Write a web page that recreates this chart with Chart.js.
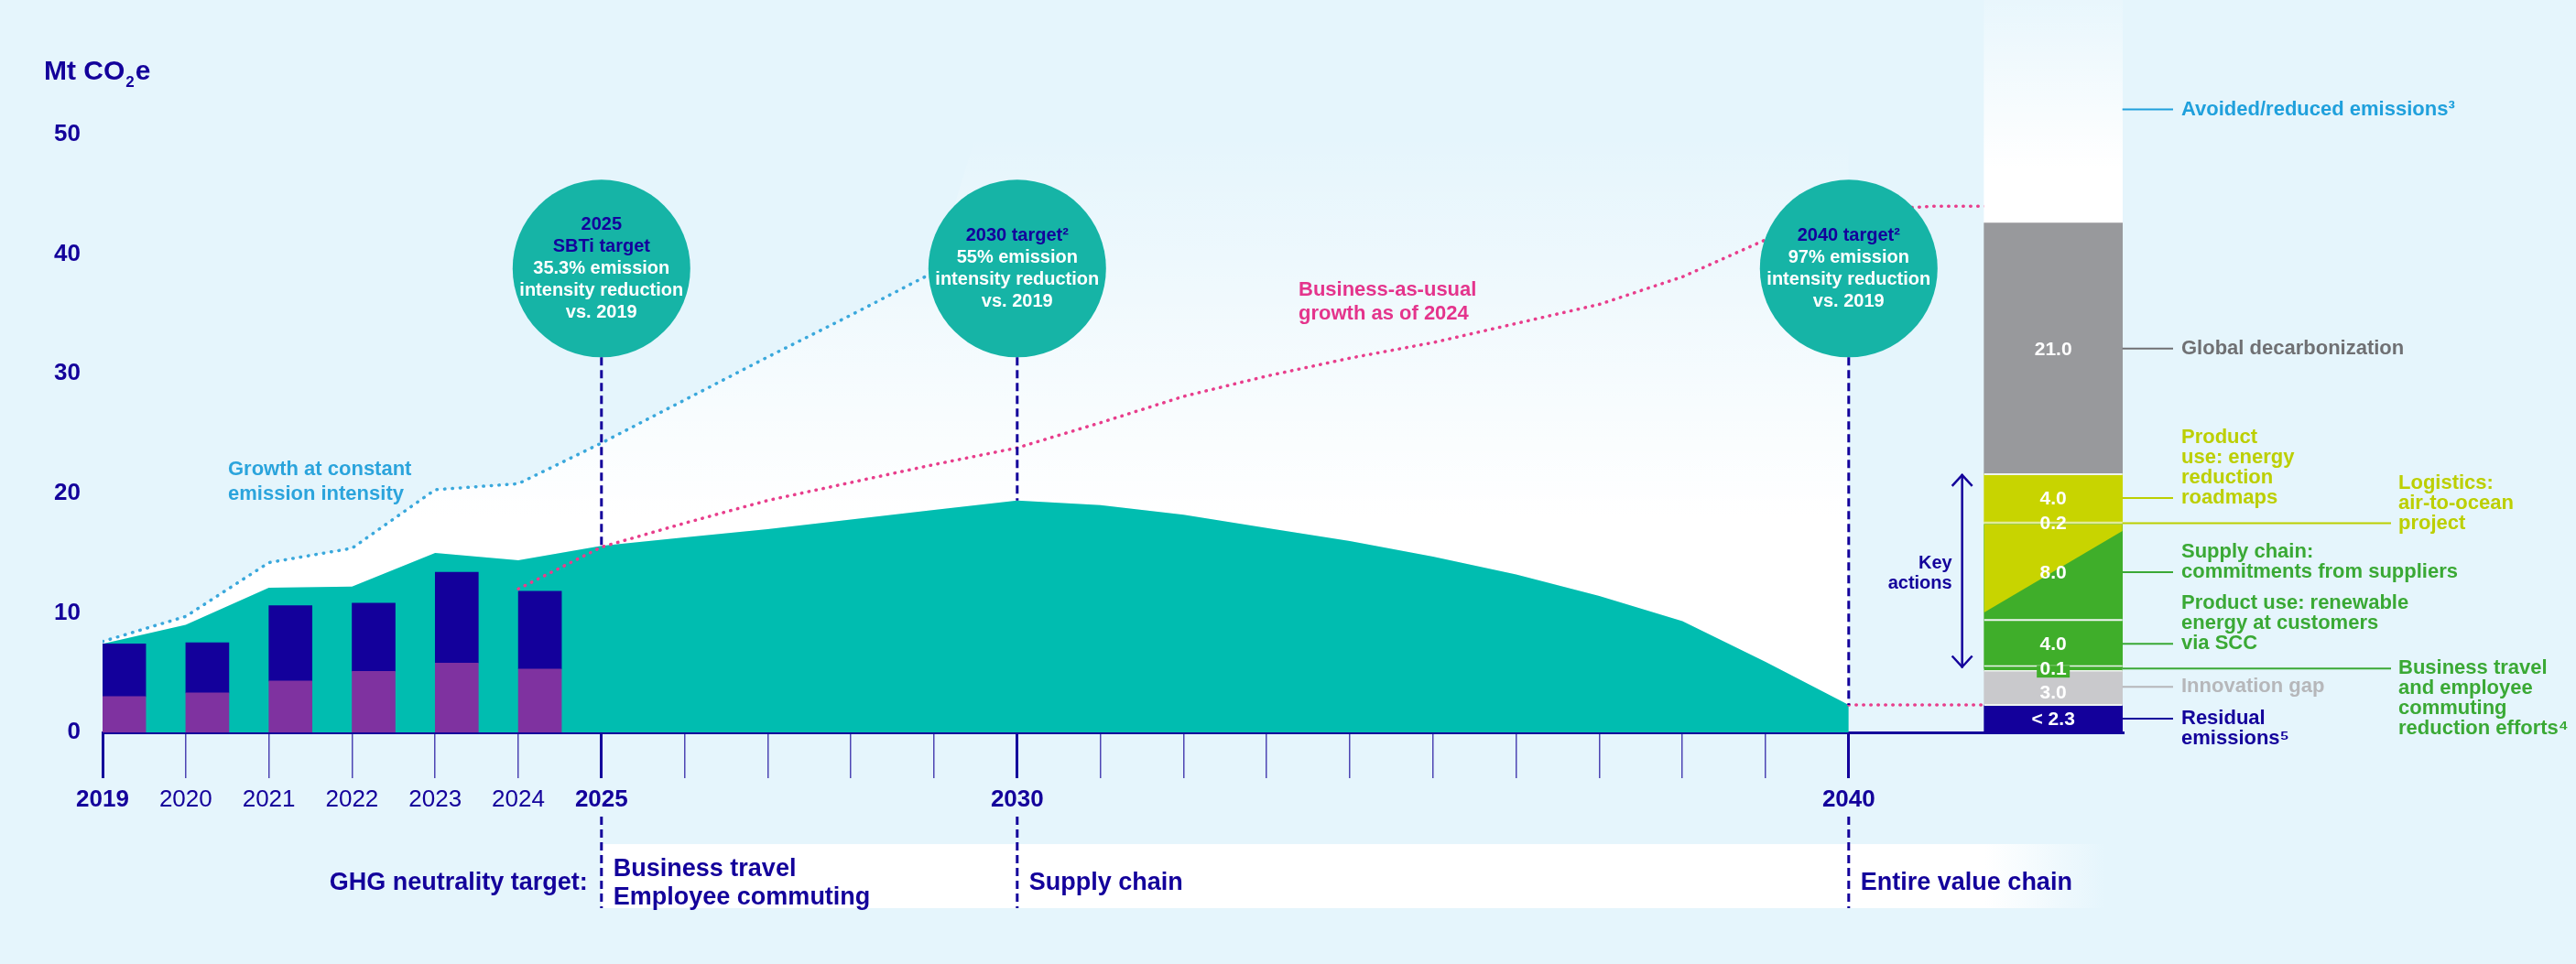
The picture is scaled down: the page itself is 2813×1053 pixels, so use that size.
<!DOCTYPE html>
<html lang="en">
<head>
<meta charset="UTF-8">
<title>Emission pathway</title>
<script src="https://cdn.jsdelivr.net/npm/chart.js"></script>
<style>
  html, body { margin: 0; padding: 0; background: #e5f5fc; }
  .wrap { width: 2813px; height: 1053px; position: relative; }
</style>
</head>
<body>
<div class="wrap"><canvas id="chart"></canvas></div>
<script>
// ---- values (Mt CO2e) ----
const histYears = [2019, 2020, 2021, 2022, 2023, 2024];
const histLower = [3.0, 3.3, 4.3, 5.1, 5.8, 5.3];
const histUpper = [4.4, 4.2, 6.3, 5.7, 7.6, 6.5];

const pathYears = [2019, 2020, 2021, 2022, 2023, 2024, 2025, 2026, 2027, 2028, 2029, 2030,
                   2031, 2032, 2033, 2034, 2035, 2036, 2037, 2038, 2039, 2040];
const pathValues = [7.4, 9.0, 12.1, 12.2, 15.0, 14.4, 15.6, 16.3, 17.0, 17.8, 18.6, 19.4,
                    19.0, 18.2, 17.1, 16.0, 14.7, 13.2, 11.4, 9.3, 5.9, 2.3];

const constYears = [2019, 2020, 2021, 2022, 2023, 2024, 2025, 2026, 2027, 2028, 2029];
const constValues = [7.6, 9.7, 14.2, 15.4, 20.3, 20.8, 24.2, 27.8, 31.4, 34.9, 38.5];

const pathBarX = 2042.46;   // position of the pathway bar after 2040
const bauYears = [2024, 2025, 2026, 2027, 2028, 2029, 2030, 2031, 2032, 2033, 2034, 2035,
                  2036, 2037, 2038, 2039, 2040, 2041, pathBarX];
const bauValues = [12.0, 15.5, 17.5, 19.4, 20.9, 22.4, 23.8, 25.9, 28.1, 29.8, 31.3, 32.6,
                   34.2, 35.8, 38.1, 41.2, 43.6, 44.0, 44.0];

const residualYears = [2040, pathBarX];
const residualValues = [2.3, 2.3];

const segValues = [2.3, 3.0, 0.1, 4.0, 8.0, 0.2, 4.0, 21.0, 19.0];
const segLabels = ['< 2.3', '3.0', '0.1', '4.0', '8.0', '0.2', '4.0', '21.0', ''];
const segNames = [
  'Residual\nemissions⁵',
  'Innovation gap',
  'Business travel\nand employee\ncommuting\nreduction efforts⁴',
  'Product use: renewable\nenergy at customers\nvia SCC',
  'Supply chain:\ncommitments from suppliers',
  'Logistics:\nair-to-ocean\nproject',
  'Product\nuse: energy\nreduction\nroadmaps',
  'Global decarbonization',
  'Avoided/reduced emissions³'
];

const milestoneYears = [2025, 2030, 2040];
const milestoneTitles = [['2025', 'SBTi target'], ['2030 target²'], ['2040 target²']];
const milestoneTexts = [
  ['35.3% emission', 'intensity reduction', 'vs. 2019'],
  ['55% emission', 'intensity reduction', 'vs. 2019'],
  ['97% emission', 'intensity reduction', 'vs. 2019']
];

const neutralityYears = [2025, 2030, 2040];
const neutralityScopes = [['Business travel', 'Employee commuting'], ['Supply chain'], ['Entire value chain']];

const tickYears = pathYears;
const labelYears = [2019, 2020, 2021, 2022, 2023, 2024, 2025, 2030, 2040];
const majorYears = [2019, 2025, 2030, 2040];

// ---- styles ----
const FONT = '"Liberation Sans", Arial, sans-serif';
const BG = '#e5f5fc';
const NAVY = '#13009b';
const PURPLE = '#7f32a0';
const TEAL = '#00bdb0';
const CIRCLE = '#16b4a6';
const GREEN = '#3fae2a';
const YELLOW = '#c8d400';
const CIRCLE_LEVEL = 38.8;
const BAR_SHIFT = 0.26;
// target geometry of the plot: 2019 at x=112, 90.8 px per year; 0 at y=800, 13.06 px per Mt
const X0 = 112, PX_YEAR = 90.8, Y0 = 800, PX_UNIT = 13.06;

const segColors = [NAVY, '#c9c9cc', GREEN, GREEN, GREEN, '#e2ea98', YELLOW, '#98999c', 'avoided'];
const segText = [NAVY, '#b6b7ba', '#3aa935', '#3aa935', '#3aa935', '#bccf00', '#bccf00', '#6f7073', '#1fa0dc'];
const segFar = [false, false, true, false, false, true, false, false, false];
const segAnchorFirst = [true, false, true, false, false, false, false, false, false];

Chart.defaults.font.family = FONT;

function avoidedFill(c) {
  const chart = c.chart;
  if (!chart.chartArea) return '#ffffff';
  const ys = chart.scales.y;
  const g = chart.ctx.createLinearGradient(0, ys.getPixelForValue(42.6), 0, ys.getPixelForValue(61));
  g.addColorStop(0, 'rgba(255,255,255,1)');
  g.addColorStop(0.25, 'rgba(255,255,255,1)');
  g.addColorStop(1, 'rgba(255,255,255,0.15)');
  return g;
}

function envelopeFill(c) {
  const chart = c.chart;
  if (!chart.chartArea) return 'rgba(255,255,255,0.8)';
  const ys = chart.scales.y;
  const g = chart.ctx.createLinearGradient(0, ys.getPixelForValue(18), 0, ys.getPixelForValue(50));
  g.addColorStop(0, 'rgba(255,255,255,1)');
  g.addColorStop(1, 'rgba(255,255,255,0)');
  return g;
}

const datasets = [];
datasets.push({
  type: 'bubble', order: 0,
  data: milestoneYears.map(v => ({ x: v, y: CIRCLE_LEVEL })),
  radius: 97, backgroundColor: CIRCLE, borderWidth: 0
});
datasets.push({
  type: 'bar', order: 1, stack: 'hist', grouped: false, barThickness: 47,
  data: histYears.map((v, i) => ({ x: v + BAR_SHIFT, y: histLower[i] })),
  backgroundColor: PURPLE, borderWidth: 0
});
datasets.push({
  type: 'bar', order: 1, stack: 'hist', grouped: false, barThickness: 47,
  data: histYears.map((v, i) => ({ x: v + BAR_SHIFT, y: histUpper[i] })),
  backgroundColor: NAVY, borderWidth: 0
});
const SEG_START = datasets.length;
segValues.forEach((v, i) => {
  const avoided = segColors[i] === 'avoided';
  datasets.push({
    type: 'bar', order: 1, stack: 'path', grouped: false, barThickness: 151,
    data: [{ x: pathBarX, y: v }],
    backgroundColor: avoided ? avoidedFill : segColors[i],
    borderWidth: 0,
    clip: avoided ? false : undefined
  });
});
datasets.push({
  type: 'line', order: 2, data: constYears.map((v, i) => ({ x: v, y: constValues[i] })),
  borderColor: '#3aa8dc', borderWidth: 3.5, borderDash: [0.5, 8], borderCapStyle: 'round',
  pointRadius: 0, fill: false, tension: 0
});
datasets.push({
  type: 'line', order: 2, data: bauYears.map((v, i) => ({ x: v, y: bauValues[i] })),
  borderColor: '#e83e8c', borderWidth: 3.5, borderDash: [0.5, 7.5], borderCapStyle: 'round',
  pointRadius: 0, fill: false, tension: 0
});
datasets.push({
  type: 'line', order: 2, data: residualYears.map((v, i) => ({ x: v, y: residualValues[i] })),
  borderColor: '#e83e8c', borderWidth: 3.5, borderDash: [0.5, 7.5], borderCapStyle: 'round',
  pointRadius: 0, fill: false
});
const TEAL_INDEX = datasets.length;
datasets.push({
  type: 'line', order: 3, data: pathYears.map((v, i) => ({ x: v, y: pathValues[i] })),
  borderColor: 'rgba(0,0,0,0)', borderWidth: 0, backgroundColor: TEAL,
  pointRadius: 0, fill: 'origin', tension: 0
});
// upper envelope: constant-intensity growth, then open above
const envelope = pathYears.map(v => {
  const k = constYears.indexOf(v);
  return { x: v, y: k >= 0 ? constValues[k] : 61.3 };
});
datasets.push({
  type: 'line', order: 4, data: envelope,
  borderColor: 'rgba(0,0,0,0)', borderWidth: 0, backgroundColor: envelopeFill,
  pointRadius: 0, fill: { target: TEAL_INDEX }, tension: 0
});

function text(ctx, s, x, y, font, color, align) {
  ctx.font = font;
  ctx.fillStyle = color;
  ctx.textAlign = align || 'left';
  ctx.textBaseline = 'middle';
  ctx.fillText(s, x, y);
}
function seg(ctx, x1, y1, x2, y2) {
  ctx.beginPath(); ctx.moveTo(x1, y1); ctx.lineTo(x2, y2); ctx.stroke();
}

const decor = {
  id: 'decor',
  beforeDraw(chart) {
    const { ctx, width, height, scales: { x } } = chart;
    ctx.save();
    ctx.fillStyle = BG;
    ctx.fillRect(0, 0, width, height);
    // neutrality band
    const bx0 = x.getPixelForValue(neutralityYears[0]);
    const bx1 = x.getPixelForValue(neutralityYears[2]) + 280;
    const g = ctx.createLinearGradient(bx0, 0, bx1, 0);
    g.addColorStop(0, '#ffffff');
    g.addColorStop(0.92, '#ffffff');
    g.addColorStop(1, BG);
    ctx.fillStyle = g;
    ctx.fillRect(bx0, 922, bx1 - bx0, 70);
    ctx.restore();
  },
  afterDatasetsDraw(chart) {
    const { ctx, scales: { x, y } } = chart;
    const bold = s => 'bold ' + s + 'px ' + FONT;
    ctx.save();

    // milestone dashed lines
    const circles = chart.getDatasetMeta(0).data;
    ctx.strokeStyle = NAVY;
    ctx.lineWidth = 3;
    ctx.setLineDash([9, 5]);
    milestoneYears.forEach((yr, i) => {
      const el = circles[i];
      const px = x.getPixelForValue(yr);
      const v = pathValues[pathYears.indexOf(yr)];
      seg(ctx, px, el.y + el.options.radius, px, y.getPixelForValue(v));
    });
    neutralityYears.forEach(yr => {
      const px = x.getPixelForValue(yr);
      seg(ctx, px, 892, px, 992);
    });
    ctx.setLineDash([]);

    // circle texts
    milestoneYears.forEach((yr, i) => {
      const el = circles[i];
      const lines = milestoneTitles[i].map(t => [t, NAVY]).concat(milestoneTexts[i].map(t => [t, '#ffffff']));
      const lh = 24;
      const y0 = el.y - (lines.length - 1) * lh / 2;
      lines.forEach((l, k) => text(ctx, l[0], el.x, y0 + k * lh, bold(20), l[1], 'center'));
    });

    // pathway bar details
    const els = segValues.map((_, i) => chart.getDatasetMeta(SEG_START + i).data[0]);
    const s4 = els[4];
    const L = s4.x - s4.width / 2, R = s4.x + s4.width / 2, T = s4.y, B = s4.base, H = B - T;
    ctx.fillStyle = YELLOW;
    ctx.beginPath();
    ctx.moveTo(L, T); ctx.lineTo(R, T); ctx.lineTo(R, T + 0.07 * H); ctx.lineTo(L, T + 0.92 * H);
    ctx.closePath(); ctx.fill();

    // separators
    ctx.strokeStyle = '#eef4ef';
    ctx.lineWidth = 2;
    [0, 1, 6].forEach(i => seg(ctx, L, els[i].y, R, els[i].y));
    seg(ctx, L, els[4].base, R, els[4].base);
    const g0 = els[2].base + 2, g1 = els[2].y - 2;
    ctx.fillStyle = GREEN;
    ctx.fillRect(L, g1, R - L, g0 - g1);
    ctx.lineWidth = 1.5;
    seg(ctx, L, g0, R, g0);
    seg(ctx, L, g1, R, g1);

    // value labels
    const barC = s4.x;
    els.forEach((el, i) => {
      if (!segLabels[i]) return;
      let cy = (el.y + el.base) / 2;
      if (segLabels[i] === '0.1') {
        ctx.fillStyle = GREEN;
        ctx.fillRect(barC - 18, cy - 3, 36, 13);
      }
      if (segLabels[i] === '3.0') cy += 6;
      text(ctx, segLabels[i], barC, cy + 1, bold(21), '#ffffff', 'center');
    });

    // leaders and names
    els.forEach((el, i) => {
      const top = Math.max(el.y, -5);
      const cy = (top + el.base) / 2;
      const xEnd = segFar[i] ? 2611 : 2373;
      const xTxt = segFar[i] ? 2619 : 2382;
      ctx.strokeStyle = segText[i];
      ctx.lineWidth = 2;
      seg(ctx, R, cy, xEnd, cy);
      const lines = segNames[i].split('\n');
      const lh = 22;
      const y0 = segAnchorFirst[i] ? cy : cy - (lines.length - 1) * lh;
      lines.forEach((t, k) => text(ctx, t, xTxt, y0 + k * lh, bold(22), segText[i]));
    });

    // key actions arrow
    const ax = L - 24;
    const aTop = els[6].y, aBot = els[3].base;
    ctx.strokeStyle = NAVY;
    ctx.lineWidth = 2.5;
    seg(ctx, ax, aTop, ax, aBot);
    ctx.beginPath();
    ctx.moveTo(ax - 11, aTop + 13); ctx.lineTo(ax, aTop + 1); ctx.lineTo(ax + 11, aTop + 13);
    ctx.moveTo(ax - 11, aBot - 13); ctx.lineTo(ax, aBot - 1); ctx.lineTo(ax + 11, aBot - 13);
    ctx.stroke();
    const am = (aTop + aBot) / 2;
    text(ctx, 'Key', ax - 11, am - 8, bold(20), NAVY, 'right');
    text(ctx, 'actions', ax - 11, am + 14, bold(20), NAVY, 'right');

    // line annotations
    text(ctx, 'Growth at constant', 249, 513, bold(22), '#2ba4dc');
    text(ctx, 'emission intensity', 249, 540, bold(22), '#2ba4dc');
    text(ctx, 'Business-as-usual', 1418, 317, bold(22), '#e4348c');
    text(ctx, 'growth as of 2024', 1418, 343, bold(22), '#e4348c');

    // unit title
    ctx.textBaseline = 'alphabetic';
    ctx.textAlign = 'left';
    ctx.fillStyle = NAVY;
    ctx.font = bold(30);
    const w1 = ctx.measureText('Mt CO').width;
    ctx.fillText('Mt CO', 48, 87);
    ctx.font = bold(17);
    ctx.fillText('2', 48 + w1 + 1, 95);
    const w2 = ctx.measureText('2').width;
    ctx.font = bold(30);
    ctx.fillText('e', 48 + w1 + w2 + 2, 87);

    // neutrality row
    text(ctx, 'GHG neutrality target:', x.getPixelForValue(neutralityYears[0]) - 15, 965, bold(27), NAVY, 'right');
    neutralityYears.forEach((yr, i) => {
      const px = x.getPixelForValue(yr) + 13;
      const lines = neutralityScopes[i];
      const y0 = lines.length > 1 ? 950 : 965;
      lines.forEach((t, k) => text(ctx, t, px, y0 + k * 31, bold(27), NAVY));
    });
    ctx.restore();
  }
};

const chart = new Chart(document.getElementById('chart'), {
  data: { datasets },
  options: {
    responsive: true,
    maintainAspectRatio: false,
    devicePixelRatio: 1,
    animation: false,
    events: [],
    layout: { padding: { left: 0, top: 0, right: 495, bottom: 0 } },
    plugins: { legend: { display: false }, tooltip: { enabled: false } },
    scales: {
      x: {
        type: 'linear', min: 2019, max: 2043.295, offset: false,
        afterBuildTicks: s => { s.ticks = tickYears.map(v => ({ value: v })); },
        afterFit: s => { s.height = 253; s.paddingLeft = 0; s.paddingRight = 0; },
        border: { display: true, color: NAVY, width: 3 },
        grid: {
          offset: false, drawOnChartArea: false, drawTicks: true, tickLength: 50,
          color: c => majorYears.includes(c.tick && c.tick.value) ? NAVY : '#4d45b3',
          lineWidth: c => majorYears.includes(c.tick && c.tick.value) ? 3 : 1.5
        },
        ticks: {
          autoSkip: false, maxRotation: 0, padding: 8, color: NAVY,
          font: c => ({ size: 26, weight: majorYears.includes(c.tick && c.tick.value) ? 'bold' : 'normal' }),
          callback: v => labelYears.includes(v) ? String(v) : ''
        }
      },
      y: {
        min: 0, max: 61.26,
        afterBuildTicks: s => { s.ticks = [0, 10, 20, 30, 40, 50].map(v => ({ value: v })); },
        afterFit: s => { s.width = 112; s.paddingTop = 0; s.paddingBottom = 0; },
        border: { display: false },
        grid: { display: false, drawTicks: false },
        ticks: { padding: 24, color: NAVY, font: { size: 26, weight: 'bold' } }
      }
    }
  },
  plugins: [decor]
});

// pin the scales to the picture's geometry, whatever padding the layout chose
for (let pass = 0; pass < 2; pass++) {
  const ca = chart.chartArea;
  const xo = chart.options.scales.x, yo = chart.options.scales.y;
  xo.min = 2019 - (ca.left - X0) / PX_YEAR;
  xo.max = xo.min + (ca.right - ca.left) / PX_YEAR;
  yo.min = (ca.bottom - Y0) / PX_UNIT;
  yo.max = yo.min + (ca.bottom - ca.top) / PX_UNIT;
  chart.update();
}
</script>
</body>
</html>
